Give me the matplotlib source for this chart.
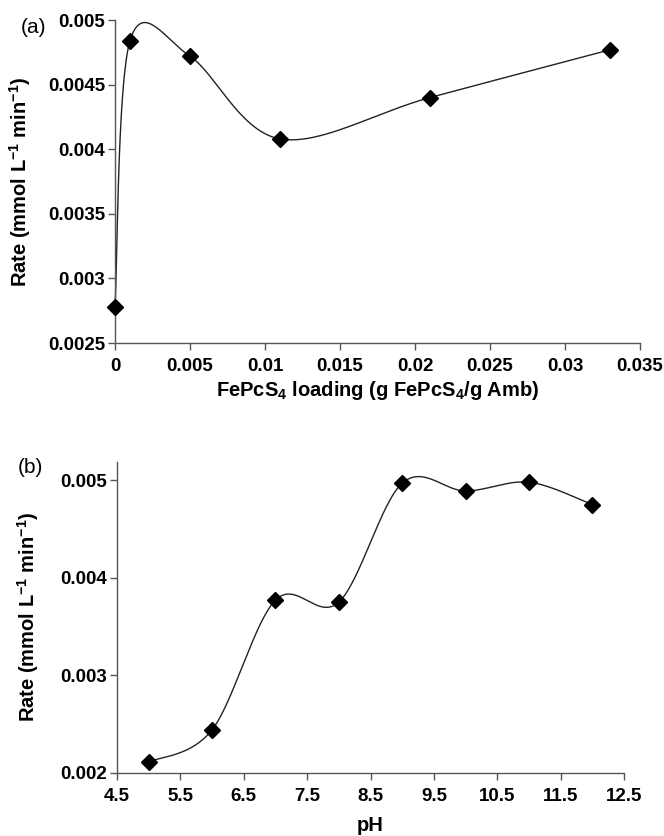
import numpy as np
import matplotlib
matplotlib.use("Agg")
import matplotlib.pyplot as plt

plt.rcParams['font.family'] = ['Liberation Sans', 'DejaVu Sans']
plt.rcParams['mathtext.fontset'] = 'custom'
plt.rcParams['mathtext.rm'] = 'Liberation Sans:bold'
plt.rcParams['mathtext.it'] = 'Liberation Sans:bold'
plt.rcParams['mathtext.bf'] = 'Liberation Sans:bold'
plt.rcParams['mathtext.default'] = 'rm'

# (a) effect of catalyst loading
loading = [0, 0.001, 0.005, 0.011, 0.021, 0.033]
rate_loading = [0.00278, 0.00484, 0.00472, 0.00408, 0.00440, 0.00477]
loading_ticks = [0, 0.005, 0.01, 0.015, 0.02, 0.025, 0.03, 0.035]
loading_ticklabels = ['0', '0.005', '0.01', '0.015', '0.02', '0.025', '0.03', '0.035']
rate_a_ticks = [0.0025, 0.003, 0.0035, 0.004, 0.0045, 0.005]
rate_a_ticklabels = ['0.0025', '0.003', '0.0035', '0.004', '0.0045', '0.005']

# (b) effect of pH
ph = [5, 6, 7, 8, 9, 10, 11, 12]
rate_ph = [0.00211, 0.00244, 0.00377, 0.00375, 0.00497, 0.00489, 0.00498, 0.00475]
ph_ticks = [4.5, 5.5, 6.5, 7.5, 8.5, 9.5, 10.5, 11.5, 12.5]
ph_ticklabels = ['4.5', '5.5', '6.5', '7.5', '8.5', '9.5', '10.5', '11.5', '12.5']
rate_b_ticks = [0.002, 0.003, 0.004, 0.005]
rate_b_ticklabels = ['0.002', '0.003', '0.004', '0.005']

RATE_LABEL = 'Rate (mmol L$^{-1}$ min$^{-1}$)'


def smooth_line(x, y, xlim, ylim, aspect, n=60):
    # spreadsheet-style smoothed line: cubic Bezier through the points,
    # control points from neighbouring points, computed in screen-like units
    sx = (np.asarray(x, float) - xlim[0]) / (xlim[1] - xlim[0]) * aspect[0]
    sy = (np.asarray(y, float) - ylim[0]) / (ylim[1] - ylim[0]) * aspect[1]
    pts = np.column_stack([sx, sy])
    m = len(pts)
    t = np.linspace(0, 1, n)[:, None]
    out = []
    for i in range(m - 1):
        p0 = pts[max(i - 1, 0)]
        p1 = pts[i]
        p2 = pts[i + 1]
        p3 = pts[min(i + 2, m - 1)]
        c1 = p1 + (p2 - p0) / 6.0
        c2 = p2 - (p3 - p1) / 6.0
        seg = ((1 - t) ** 3) * p1 + 3 * ((1 - t) ** 2) * t * c1 + 3 * (1 - t) * t ** 2 * c2 + t ** 3 * p2
        out.append(seg if i == 0 else seg[1:])
    out = np.vstack(out)
    xs = out[:, 0] / aspect[0] * (xlim[1] - xlim[0]) + xlim[0]
    ys = out[:, 1] / aspect[1] * (ylim[1] - ylim[0]) + ylim[0]
    return xs, ys


def style_axes(ax):
    for side in ['top', 'right']:
        ax.spines[side].set_visible(False)
    for side in ['left', 'bottom']:
        ax.spines[side].set_color('#555555')
        ax.spines[side].set_linewidth(1.0)
    ax.tick_params(direction='out', length=5, width=1.0, color='#555555',
                   labelsize=13.5)
    ax.tick_params(axis='x', pad=6)
    ax.tick_params(axis='y', pad=2)
    for lab in ax.get_xticklabels() + ax.get_yticklabels():
        lab.set_fontweight('bold')


fig = plt.figure(figsize=(6.64, 8.36), dpi=100)

# panel (a)
ax1 = fig.add_axes([0.1732, 0.5897, 0.7907, 0.3863])
xlim_a = (0, 0.035)
ylim_a = (0.0025, 0.005)
xs, ys = smooth_line(loading, rate_loading, xlim_a, ylim_a, (525, 323))
ax1.plot(xs, ys, color='#222222', lw=1.0, clip_on=False)
ax1.plot(loading, rate_loading, ls='none', marker='D', ms=8, color='black', clip_on=False, zorder=3)
ax1.set_xlim(*xlim_a)
ax1.set_ylim(*ylim_a)
ax1.set_xticks(loading_ticks)
ax1.set_xticklabels(loading_ticklabels)
ax1.set_yticks(rate_a_ticks)
ax1.set_yticklabels(rate_a_ticklabels)
ax1.set_xlabel('FePcS$_4$ loading (g FePcS$_4$/g Amb)', fontsize=14.5, fontweight='bold')
ax1.set_ylabel(RATE_LABEL, fontsize=14.5, fontweight='bold')
ax1.xaxis.set_label_coords(0.5, -0.112)
ax1.yaxis.set_label_coords(-0.156, 0.5)
style_axes(ax1)
fig.text(0.031, 1 - 33 / 836, '(a)', fontsize=15)

# panel (b)
ax2 = fig.add_axes([0.1762, 0.0757, 0.7636, 0.372])
xlim_b = (4.5, 12.5)
ylim_b = (0.002, 0.00519)
xs, ys = smooth_line(ph, rate_ph, xlim_b, ylim_b, (507, 311))
ax2.plot(xs, ys, color='#222222', lw=1.0, clip_on=False)
ax2.plot(ph, rate_ph, ls='none', marker='D', ms=8, color='black', clip_on=False, zorder=3)
ax2.set_xlim(*xlim_b)
ax2.set_ylim(*ylim_b)
ax2.set_xticks(ph_ticks)
ax2.set_xticklabels(ph_ticklabels)
ax2.set_yticks(rate_b_ticks)
ax2.set_yticklabels(rate_b_ticklabels)
ax2.set_xlabel('pH', fontsize=14.5, fontweight='bold')
ax2.set_ylabel(RATE_LABEL, fontsize=14.5, fontweight='bold')
ax2.xaxis.set_label_coords(0.5, -0.14)
ax2.yaxis.set_label_coords(-0.15, 0.5)
style_axes(ax2)
fig.text(0.027, 1 - 473 / 836, '(b)', fontsize=15)

fig.savefig('out.png', dpi=100, facecolor='white')
